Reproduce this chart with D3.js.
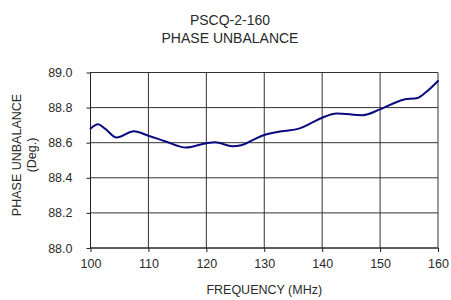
<!DOCTYPE html>
<html>
<head>
<meta charset="utf-8">
<script src="https://cdn.jsdelivr.net/npm/d3@7"></script>
<style>
  body { margin: 0; background: #fff; }
  text { font-family: Arial, "Liberation Sans", sans-serif; fill: #2a2a2a; }
</style>
</head>
<body>
<div id="chart-container"></div>
<script>
// frequency (MHz) and phase unbalance (deg)
var freq = [100, 101.3, 102.5, 104.5, 107.5, 110, 113, 116.5, 120, 121.5, 124.5, 126,
            128, 130, 133, 136, 138, 140, 142.5, 147, 150, 154, 156.5, 158, 160];
var phase = [88.68, 88.705, 88.68, 88.63, 88.665, 88.64, 88.607, 88.572, 88.597, 88.602, 88.58, 88.585,
             88.615, 88.644, 88.665, 88.68, 88.71, 88.742, 88.767, 88.757, 88.79, 88.845, 88.855, 88.89, 88.952];
var xTicks = [100, 110, 120, 130, 140, 150, 160];
var yTicks = [88.0, 88.2, 88.4, 88.6, 88.8, 89.0];

var titleLines = ["PSCQ-2-160", "PHASE UNBALANCE"];

document.addEventListener('DOMContentLoaded', function() {
  visualise();
});

function visualise() {
  const svgWidth = 451;
  const svgHeight = 300;

  const margin = {top: 72.5, left: 90.5, bottom: 52, right: 13};
  const w = svgWidth - margin.left - margin.right;
  const h = svgHeight - margin.top - margin.bottom;

  const svg = d3.select('#chart-container')
      .append('svg')
      .attr('width', svgWidth)
      .attr('height', svgHeight);

  // title
  svg.selectAll('.title')
      .data(titleLines)
      .enter()
      .append('text')
      .attr('class', 'title')
      .attr('x', 230)
      .attr('y', function(d, i) { return 25 + i * 17.5; })
      .attr('text-anchor', 'middle')
      .style('font-size', '14px')
      .text(function(d) { return d; });

  const chart = svg.append('g')
      .attr('transform', 'translate(' + margin.left + ',' + margin.top + ')');

  var x = d3.scaleLinear().domain([100, 160]).range([0, w]);
  var y = d3.scaleLinear().domain([88.0, 89.0]).range([h, 0]);

  // grid
  chart.append('g')
      .selectAll('line')
      .data(yTicks)
      .enter()
      .append('line')
      .attr('x1', 0).attr('x2', w)
      .attr('y1', function(d) { return y(d); })
      .attr('y2', function(d) { return y(d); })
      .attr('stroke', '#333')
      .attr('stroke-width', 1);

  chart.append('g')
      .selectAll('line')
      .data(xTicks)
      .enter()
      .append('line')
      .attr('y1', 0).attr('y2', h)
      .attr('x1', function(d) { return x(d); })
      .attr('x2', function(d) { return x(d); })
      .attr('stroke', '#333')
      .attr('stroke-width', 1);

  // axes
  var xAxis = chart.append('g')
      .attr('transform', 'translate(0,' + h + ')')
      .call(d3.axisBottom(x).tickValues(xTicks).tickSize(4).tickPadding(7)
            .tickFormat(d3.format('d')));
  var yAxis = chart.append('g')
      .call(d3.axisLeft(y).tickValues(yTicks).tickSize(4).tickPadding(14)
            .tickFormat(d3.format('.1f')));

  [xAxis, yAxis].forEach(function(a) {
    a.select('.domain').remove();
    a.selectAll('.tick line').attr('stroke', '#222');
    a.selectAll('.tick text')
        .style('font-size', '12.5px')
        .attr('fill', '#2a2a2a')
        .style('font-family', 'Arial, "Liberation Sans", sans-serif');
  });

  // frame: left and bottom axis lines
  chart.append('line').attr('x1', 0).attr('x2', w).attr('y1', h).attr('y2', h)
      .attr('stroke', '#222');
  chart.append('line').attr('x1', 0).attr('x2', 0).attr('y1', 0).attr('y2', h)
      .attr('stroke', '#222');

  // data line
  var line = d3.line()
      .x(function(d, i) { return x(freq[i]); })
      .y(function(d) { return y(d); })
      .curve(d3.curveMonotoneX);

  chart.append('path')
      .datum(phase)
      .attr('fill', 'none')
      .attr('stroke', '#0a0a80')
      .attr('stroke-width', 2)
      .attr('stroke-linejoin', 'round')
      .attr('stroke-linecap', 'round')
      .attr('d', line);

  // axis titles
  svg.append('text')
      .attr('x', margin.left + w / 2)
      .attr('y', 294)
      .attr('text-anchor', 'middle')
      .style('font-size', '12.5px')
      .text('FREQUENCY (MHz)');

  var yl = svg.append('g')
      .attr('transform', 'translate(21,155) rotate(-90)');
  yl.append('text')
      .attr('text-anchor', 'middle')
      .style('font-size', '12.5px')
      .text('PHASE UNBALANCE');
  yl.append('text')
      .attr('y', 15)
      .attr('text-anchor', 'middle')
      .style('font-size', '12.5px')
      .text('(Deg.)');
}
</script>
</body>
</html>
